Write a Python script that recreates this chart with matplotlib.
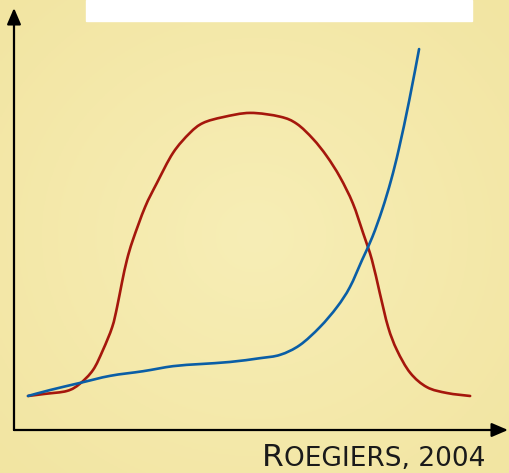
import numpy as np
import matplotlib
matplotlib.use("Agg")
import matplotlib.pyplot as plt
from matplotlib.path import Path
from matplotlib.patches import PathPatch, FancyArrowPatch

# curves (arbitrary units, 0-100 on both axes)
red_x = [2.85, 6.3, 10.8, 13.4, 16.1, 18.1, 20.0, 21.0, 22.0, 23.0, 24.2, 26.7, 29.1,
         32.4, 35.8, 38.5, 42.6, 48.1, 54.2, 57.6, 60.9, 63.7, 66.4, 69.0, 71.1, 72.9,
         74.5, 76.2, 78.0, 80.7, 84.1, 88.2, 92.9]
red_y = [8.1, 8.6, 9.3, 11.0, 14.3, 19.0, 24.5, 29.3, 35.2, 40.5, 45.2, 53.1, 58.8,
         66.0, 70.7, 73.1, 74.5, 75.5, 74.6, 72.9, 69.3, 65.2, 60.2, 54.0, 46.9, 40.5,
         32.6, 24.5, 19.0, 13.6, 10.2, 8.8, 8.1]

blue_x = [2.85, 7.3, 13.4, 19.6, 26.3, 32.4, 37.9, 44.0, 50.1, 54.2, 58.2, 62.3, 65.8,
          68.4, 70.9, 73.0, 75.0, 76.8, 78.4, 80.5, 82.5]
blue_y = [8.1, 9.5, 11.2, 12.9, 14.0, 15.2, 15.7, 16.2, 17.1, 17.9, 20.2, 24.5, 29.3,
          34.0, 40.5, 46.0, 52.5, 59.5, 67.0, 78.5, 90.7]

W, H = 510, 473


def smooth_path(xs, ys):
    # cubic bezier through the points (catmull-rom tangents)
    p = np.column_stack([xs, ys]).astype(float)
    n = len(p)
    verts = [p[0]]
    codes = [Path.MOVETO]
    for i in range(n - 1):
        a = p[i - 1] if i > 0 else p[i]
        b, c = p[i], p[i + 1]
        d = p[i + 2] if i + 2 < n else p[i + 1]
        verts += [b + (c - a) / 6, c - (d - b) / 6, c]
        codes += [Path.CURVE4] * 3
    return Path(verts, codes)


fig = plt.figure(figsize=(W / 100, H / 100), dpi=100)

# yellow background, slightly lighter in the middle
bg = fig.add_axes([0, 0, 1, 1])
gx, gy = np.meshgrid(np.linspace(-1, 1, 200), np.linspace(-1, 1, 200))
r = np.clip(np.sqrt(gx ** 2 + gy ** 2) / 1.4, 0, 1)
edge = np.array([242, 229, 162]) / 255
centre = np.array([247, 238, 182]) / 255
img = centre[None, None, :] * (1 - r[..., None]) + edge[None, None, :] * r[..., None]
bg.imshow(img, extent=[0, 1, 0, 1], aspect="auto")
bg.set_axis_off()

# white banner at top
fig.patches.append(plt.Rectangle((86 / W, 1 - 21 / H), 386 / W, 21 / H,
                                 transform=fig.transFigure, color="white", zorder=1))

# plotting area: origin at pixel (14, 430)
x0, y0 = 14 / W, 1 - 430 / H
ax = fig.add_axes([x0, y0, 491 / W, 420 / H])
ax.set_xlim(0, 100)
ax.set_ylim(0, 100)
ax.set_axis_off()
ax.patch.set_alpha(0)

for xs, ys, col in [(red_x, red_y, "#A5170C"), (blue_x, blue_y, "#0A5EA6")]:
    ax.add_patch(PathPatch(smooth_path(xs, ys), fill=False, edgecolor=col, lw=1.9,
                           capstyle="round", joinstyle="round"))

# axes with arrowheads
style = "-|>,head_length=0.7,head_width=0.3"
fig.add_artist(FancyArrowPatch((x0, y0), (x0, 1 - 8 / H), transform=fig.transFigure,
                               arrowstyle=style, mutation_scale=14, color="black",
                               lw=1.6, shrinkA=0, shrinkB=0))
fig.add_artist(FancyArrowPatch((x0, y0), (508 / W, y0), transform=fig.transFigure,
                               arrowstyle=style, mutation_scale=14, color="black",
                               lw=1.6, shrinkA=0, shrinkB=0))

# small-caps caption
base = 1 - 466 / H
t1 = fig.text(262 / W, base, "R", fontsize=22.5, color="#1a1a1a",
              ha="left", va="baseline", family="DejaVu Sans")
fig.canvas.draw()
bb = t1.get_window_extent()
fig.text(bb.x1 / W, base, "OEGIERS, 2004", fontsize=19, color="#1a1a1a",
         ha="left", va="baseline", family="DejaVu Sans")

fig.savefig("out.png", dpi=100)
